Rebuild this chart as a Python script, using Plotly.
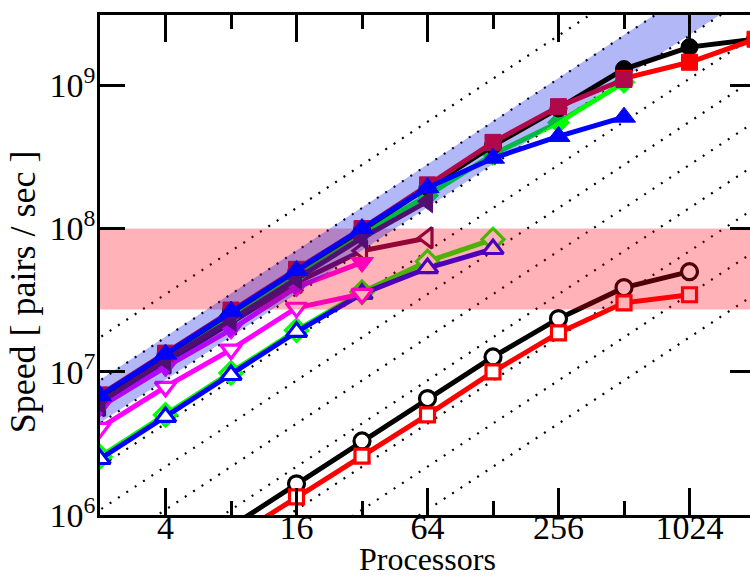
import plotly.graph_objects as go

# ---------------- data ----------------
procs = [2, 4, 8, 16, 32, 64, 128, 256, 512, 1024, 2048]

black_filled_x = procs
black_filled_y = [6.7e6, 1.32e7, 2.65e7, 5.1e7, 9.8e7, 1.95e8, 3.8e8, 6.9e8, 1.3e9, 1.85e9, 2.1e9]

red_filled_x = [512, 1024, 2048]
red_filled_y = [1.12e9, 1.45e9, 2.1e9]

crimson_sq_x = procs[:9]
crimson_sq_y = [6.9e6, 1.35e7, 2.7e7, 5.2e7, 1.0e8, 2.02e8, 4.0e8, 7.1e8, 1.1e9]

green_filled_x = procs[:9]
green_filled_y = [6.4e6, 1.25e7, 2.5e7, 4.8e7, 9.3e7, 1.7e8, 3.3e8, 5.5e8, 1.05e9]

blue_filled_x = procs[:9]
blue_filled_y = [6.8e6, 1.33e7, 2.65e7, 5.1e7, 1.0e8, 1.93e8, 3.1e8, 4.4e8, 6.0e8]

purple_filled_x = procs[:6]
purple_filled_y = [6.1e6, 1.21e7, 2.3e7, 4.5e7, 8.6e7, 1.55e8]

maroon_open_x = procs[:6]
maroon_open_y = [5.8e6, 1.15e7, 2.2e7, 4.2e7, 7.0e7, 8.6e7]

magenta_filled_x = procs[:5]
magenta_filled_y = [5.7e6, 1.08e7, 1.97e7, 3.9e7, 5.8e7]

magenta_open_x = procs[:5]
magenta_open_y = [4.06e6, 7.85e6, 1.43e7, 2.8e7, 3.5e7]

blue_open_x = procs[:7]
blue_open_y = [2.46e6, 4.84e6, 9.5e6, 1.9e7, 3.5e7, 5.3e7, 7.2e7]

lime_open_x = procs[:7]
lime_open_y = [2.55e6, 5.0e6, 9.8e6, 1.95e7, 3.6e7, 5.9e7, 8.4e7]

black_open_x = procs[2:10]
black_open_y = [8.3e5, 1.65e6, 3.29e6, 6.5e6, 1.27e7, 2.35e7, 3.87e7, 5.0e7]

red_open_x = procs[2:10]
red_open_y = [6.8e5, 1.34e6, 2.58e6, 5.0e6, 1.0e7, 1.87e7, 3.03e7, 3.45e7]

# ideal-scaling reference lines  y = c * x
ideal_top_coef = 8.7e6
ideal_count = 10
band_hi_coef = 4.4e6
band_lo_coef = 2.2e6
pink_band = [2.72e7, 1.0e8]
x_span = [1, 8192]

x_ticks = [4, 16, 64, 256, 1024]
x_minor = [8, 32, 128, 512]
y_ticks = [1e6, 1e7, 1e8, 1e9]
y_ticktext = ["10<sup>6</sup>", "10<sup>7</sup>", "10<sup>8</sup>", "10<sup>9</sup>"]

FONT = "Liberation Serif"
LW = 5

fig = go.Figure()

# dotted reference lines
dx, dy = [], []
for k in range(ideal_count):
    c = ideal_top_coef / 2 ** k
    dx += [x_span[0], x_span[1], None]
    dy += [c * x_span[0], c * x_span[1], None]
fig.add_trace(go.Scatter(x=dx, y=dy, mode="lines",
                         line=dict(color="black", width=2.2, dash="2px,8px"),
                         hoverinfo="skip"))


def series(x, y, color, symbol, size, open_=False, mlw=3.2):
    if open_:
        marker = dict(symbol=symbol, size=size, color="white",
                      line=dict(color=color, width=mlw))
    else:
        marker = dict(symbol=symbol, size=size, color=color,
                      line=dict(color=color, width=1))
    fig.add_trace(go.Scatter(x=x, y=y, mode="lines+markers",
                             line=dict(color=color, width=LW),
                             marker=marker, cliponaxis=True))


# series below the shaded bands
series(lime_open_x, lime_open_y, "#00ff00", "diamond", 17, True)
series(blue_open_x, blue_open_y, "#0000ff", "triangle-up", 18, True)
series(magenta_open_x, magenta_open_y, "#ff00ff", "triangle-down", 18, True)
series(maroon_open_x, maroon_open_y, "#67074a", "triangle-left", 18, True)
series(green_filled_x, green_filled_y, "#00ff00", "diamond", 17)
series(magenta_filled_x, magenta_filled_y, "#ff00ff", "triangle-down", 20)
series(black_open_x, black_open_y, "#000000", "circle", 16, True)
series(red_open_x, red_open_y, "#ff0000", "square", 14, True)

# shaded bands
fig.add_trace(go.Scatter(x=[x_span[0], x_span[1], x_span[1], x_span[0]],
                         y=[pink_band[0], pink_band[0], pink_band[1], pink_band[1]],
                         fill="toself", fillcolor="rgba(255,0,20,0.30)",
                         mode="lines", line=dict(width=0), hoverinfo="skip"))
fig.add_trace(go.Scatter(x=[x_span[0], x_span[1], x_span[1], x_span[0]],
                         y=[band_lo_coef * x_span[0], band_lo_coef * x_span[1],
                            band_hi_coef * x_span[1], band_hi_coef * x_span[0]],
                         fill="toself", fillcolor="rgba(0,20,230,0.30)",
                         mode="lines", line=dict(width=0), hoverinfo="skip"))

# series above the bands
series(black_filled_x, black_filled_y, "#000000", "circle", 17)
series(red_filled_x, red_filled_y, "#ff0000", "square", 16)
series(crimson_sq_x, crimson_sq_y, "#b0084a", "square", 16)
series(purple_filled_x, purple_filled_y, "#520f72", "triangle-left", 20)
series(blue_filled_x, blue_filled_y, "#0000ff", "triangle-up", 20)

axis_common = dict(type="log", showline=True, linecolor="black", linewidth=2.5,
                   mirror="ticks", ticks="inside", tickcolor="black", tickwidth=2.5,
                   showgrid=False, zeroline=False, automargin=False,
                   tickfont=dict(family=FONT, size=34, color="black"))

fig.update_xaxes(**axis_common,
                 range=[0.30103, 3.31133], tickvals=x_ticks,
                 ticktext=[str(v) for v in x_ticks], ticklen=27, ticklabelstandoff=-20,
                 minor=dict(tickvals=x_minor, ticks="inside", ticklen=14,
                            tickwidth=2.5, tickcolor="black", showgrid=False))
fig.update_yaxes(**axis_common,
                 range=[6, 9.4914], tickvals=y_ticks, ticktext=y_ticktext, ticklen=25,
                 ticklabelstandoff=-5)

# the plot frame runs a few pixels past the right edge of the window,
# as in the reference (the page body margin is removed below)
fig.update_layout(
    width=755, height=576, showlegend=False,
    paper_bgcolor="white", plot_bgcolor="white",
    margin=dict(l=100, r=0, t=15, b=61),
    annotations=[
        dict(text="Processors", xref="paper", yref="paper", x=0.5, y=-0.087,
             xanchor="center", yanchor="middle", showarrow=False,
             font=dict(family=FONT, size=32, color="black")),
        dict(text="Speed [ pairs / sec ]", xref="paper", yref="paper", x=-0.117, y=0.446,
             xanchor="center", yanchor="middle", showarrow=False, textangle=-90,
             font=dict(family=FONT, size=36, color="black")),
    ])

fig.write_html(
    "out.html",
    config={"displayModeBar": False},
    post_script=("document.documentElement.style.overflow='hidden';"
                 "document.body.style.margin='0';"
                 "document.body.style.overflow='hidden';"),
)
